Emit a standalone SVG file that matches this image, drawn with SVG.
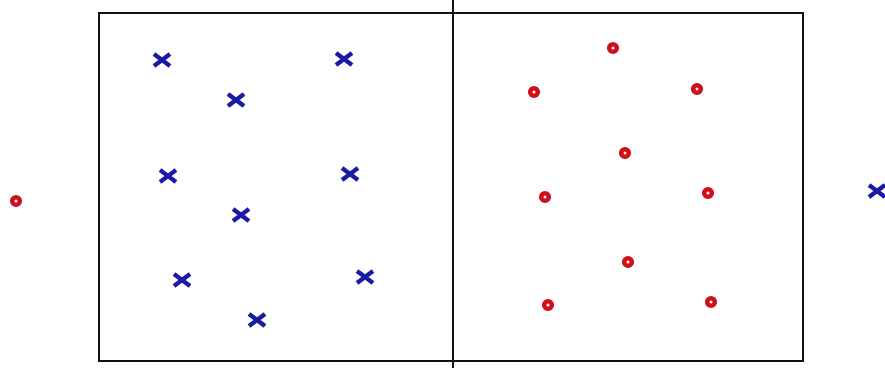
<svg xmlns="http://www.w3.org/2000/svg" width="885" height="368" viewBox="0 0 885 368">
<defs>
<style>
.box{fill:none;stroke:#111;stroke-width:2}
.xm{stroke:#1a1aa6;stroke-width:4.4;stroke-linecap:butt}
.om{fill:none;stroke:#d01018;stroke-width:4.6}
</style>
<g id="xmark"><path class="xm" d="M-8,-6 L8,6 M-8,6 L8,-6"/></g>
<circle id="omark" class="om" r="3.8"/>
</defs>
<rect width="885" height="368" fill="#fff"/>
<g id="boxes">
<rect class="box" x="99" y="13" width="704" height="348"/>
<line class="box" x1="453" y1="0" x2="453" y2="368"/>
</g>
<g id="blue-x">
<use href="#xmark" x="162" y="60"/>
<use href="#xmark" x="344" y="59"/>
<use href="#xmark" x="236" y="100"/>
<use href="#xmark" x="168" y="176"/>
<use href="#xmark" x="350" y="174"/>
<use href="#xmark" x="241" y="215"/>
<use href="#xmark" x="182" y="280"/>
<use href="#xmark" x="365" y="277"/>
<use href="#xmark" x="257" y="320"/>
<use href="#xmark" x="877" y="191"/>
</g>
<g id="red-o">
<use href="#omark" x="613" y="48"/>
<use href="#omark" x="534" y="92"/>
<use href="#omark" x="697" y="89"/>
<use href="#omark" x="625" y="153"/>
<use href="#omark" x="545" y="197"/>
<use href="#omark" x="708" y="193"/>
<use href="#omark" x="628" y="262"/>
<use href="#omark" x="548" y="305"/>
<use href="#omark" x="711" y="302"/>
<use href="#omark" x="16" y="201"/>
</g>
</svg>
